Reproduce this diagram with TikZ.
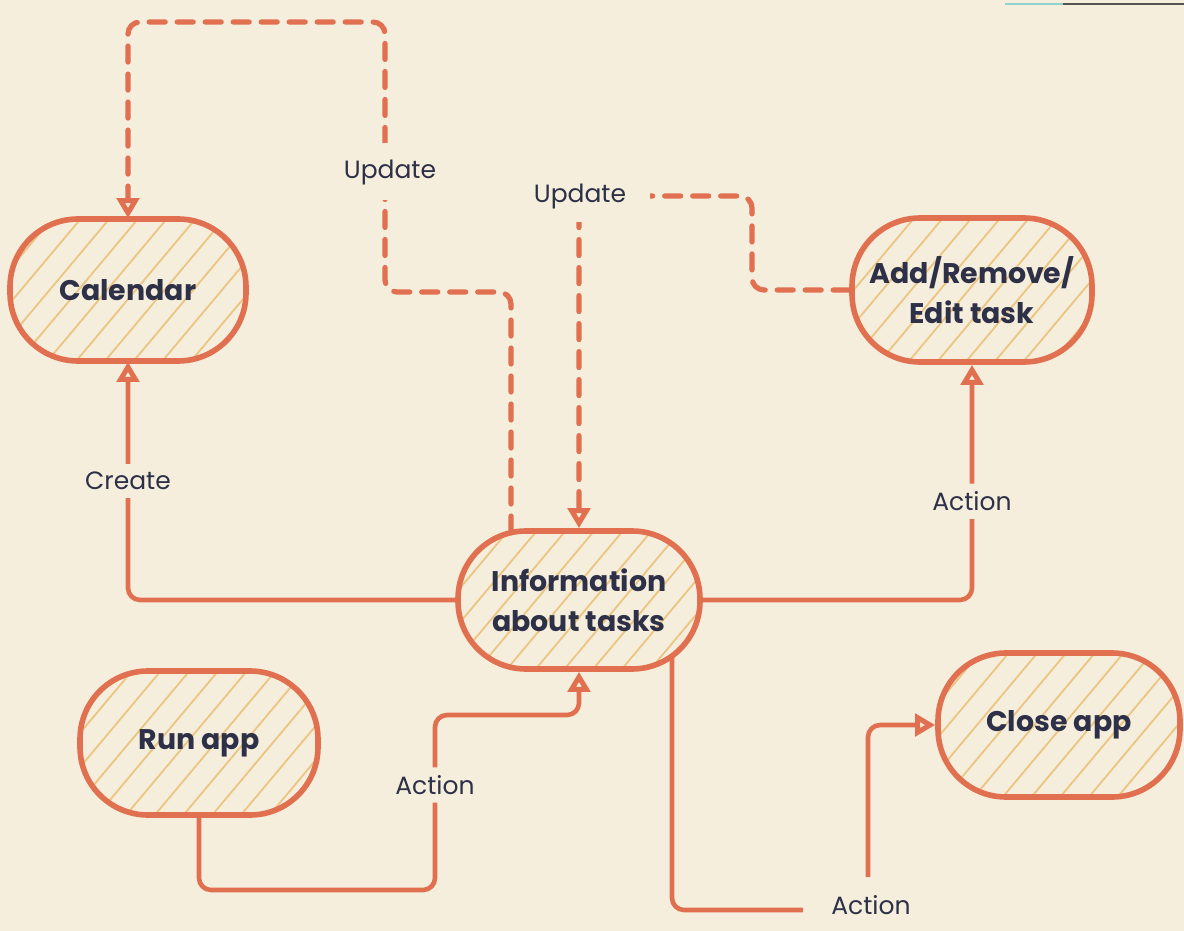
\documentclass[tikz,border=0pt]{standalone}
\usepackage{fontspec}
\setmainfont{Poppins}
\usetikzlibrary{arrows.meta,patterns.meta,calc}
\definecolor{bg}{HTML}{F5EEDC}
\definecolor{stroke}{HTML}{E0704F}
\definecolor{hatch}{HTML}{EBC581}
\definecolor{ink}{HTML}{2D3047}
\definecolor{tealline}{HTML}{8FD3CF}
\definecolor{grayline}{HTML}{555555}
\begin{document}
\begin{tikzpicture}[x=0.5pt,y=-0.5pt,
  box/.style={draw=stroke, line width=2.8pt, rounded corners=34pt,
    minimum width=118pt, minimum height=71pt, align=center, text=ink,
    font=\fontsize{14.2}{20}\selectfont\bfseries,
    preaction={fill=bg},
    pattern={Lines[angle=50,distance=11pt,line width=0.9pt]}, pattern color=hatch},
  conn/.style={draw=stroke, line width=2.3pt, rounded corners=6pt, line cap=round},
  arr/.style={conn, -{Triangle[open,length=10pt,width=11pt,line width=2.5pt]}},
  dsh/.style={dash pattern=on 8pt off 6pt, line width=2.6pt},
  lbl/.style={fill=bg, text=ink, font=\fontsize{12.5}{15}\selectfont, inner sep=4pt}]
\useasboundingbox (0,0) rectangle (1184,931);
\fill[bg] (0,0) rectangle (1184,931);
\draw[tealline, line width=1pt] (1005,4) -- (1063,4);
\draw[grayline, line width=1pt] (1063,4) -- (1184,4);

\node[box] (cal) at (128,290) {Calendar};
\node[box, minimum width=121pt, minimum height=69pt] (info) at (579,600) {Information\\about tasks};
\node[box, minimum width=120pt, minimum height=72pt] (add) at (972,290) {Add/Remove/\\Edit task};
\node[box, minimum width=119pt, minimum height=72pt] (run) at (199,743) {Run app};
\node[box, minimum width=121pt, minimum height=72pt] (close) at (1059,725) {Close app};

\coordinate (s1) at ($(info.center)+(-68,-68)$);
\coordinate (s2) at ($(info.center)+(93,57)$);

% Create
\draw[arr] (info.west) -| node[lbl,pos=0.75]{Create} (cal.south);
% Action to Add/Remove
\draw[arr] (info.east) -| node[lbl,pos=0.71]{Action} (add.south);
% Run app to Information
\draw[arr] (run.south) |- (435,890) -- node[lbl,pos=0.6]{Action} (435,715) -| (info.south);
% Information to Close app
\draw[arr] (s2) -- (672,910) -- (868,910) |- (close.west);
\node[lbl, inner xsep=14pt, inner ysep=9pt] (a3) at (871,905) {Action};
% Update to Calendar
\draw[arr, dsh] (s1) -- (511,292) -- (385,292) -- (385,22) -- (128,22) -- (cal.north);
\node[lbl, inner ysep=8pt] (u1) at (390,172) {Update};
% Update from Add/Remove to Information
\draw[arr, dsh] (add.west) -- (752,290) -- (752,196) -- (579,196) -- (info.north);
\node[lbl, inner xsep=12pt, inner ysep=6pt] (u2) at (580,197) {Update};
\end{tikzpicture}
\end{document}
